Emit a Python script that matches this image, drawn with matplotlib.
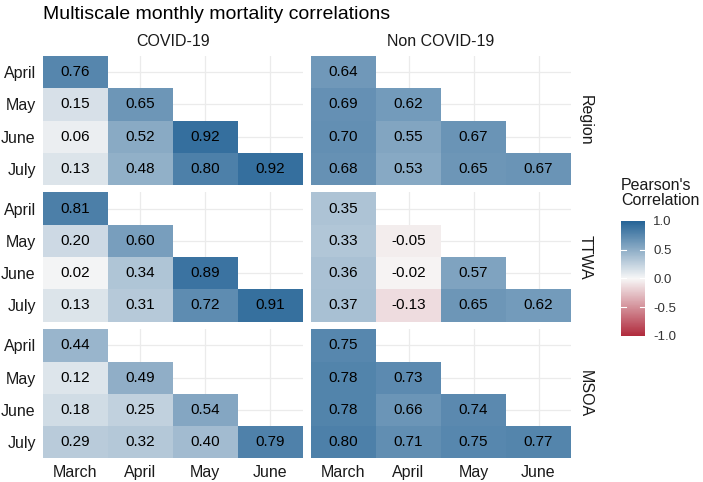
import numpy as np
import matplotlib
matplotlib.use("Agg")
import matplotlib.pyplot as plt
from matplotlib.colors import LinearSegmentedColormap, Normalize
from matplotlib.cm import ScalarMappable

plt.rcParams['font.family'] = ['Liberation Sans', 'DejaVu Sans']

row_months = ['April', 'May', 'June', 'July']
col_months = ['March', 'April', 'May', 'June']
causes = ['COVID-19', 'Non COVID-19']
scales = ['Region', 'TTWA', 'MSOA']

# lower-triangle correlations, one list per row month
covid_region = [[0.76], [0.15, 0.65], [0.06, 0.52, 0.92], [0.13, 0.48, 0.80, 0.92]]
noncovid_region = [[0.64], [0.69, 0.62], [0.70, 0.55, 0.67], [0.68, 0.53, 0.65, 0.67]]
covid_ttwa = [[0.81], [0.20, 0.60], [0.02, 0.34, 0.89], [0.13, 0.31, 0.72, 0.91]]
noncovid_ttwa = [[0.35], [0.33, -0.05], [0.36, -0.02, 0.57], [0.37, -0.13, 0.65, 0.62]]
covid_msoa = [[0.44], [0.12, 0.49], [0.18, 0.25, 0.54], [0.29, 0.32, 0.40, 0.79]]
noncovid_msoa = [[0.75], [0.78, 0.73], [0.78, 0.66, 0.74], [0.80, 0.71, 0.75, 0.77]]

panels = {
    ('Region', 'COVID-19'): covid_region,
    ('Region', 'Non COVID-19'): noncovid_region,
    ('TTWA', 'COVID-19'): covid_ttwa,
    ('TTWA', 'Non COVID-19'): noncovid_ttwa,
    ('MSOA', 'COVID-19'): covid_msoa,
    ('MSOA', 'Non COVID-19'): noncovid_msoa,
}

cmap = LinearSegmentedColormap.from_list(
    'pearson', [(0.0, '#b02a3c'), (0.5, '#f7f7f7'), (1.0, '#246396')])
norm = Normalize(-1, 1)

W, H = 703, 482
fig = plt.figure(figsize=(W / 100, H / 100), dpi=100)

col_left = [42.7, 311.0]
panel_w = 260.0
row_top = [56.0, 192.5, 329.3]
panel_h = 129.0

text_col = '#1a1a1a'

for i, sc in enumerate(scales):
    for j, cause in enumerate(causes):
        ax = fig.add_axes([col_left[j] / W, 1 - (row_top[i] + panel_h) / H,
                           panel_w / W, panel_h / H])
        rows = panels[(sc, cause)]
        grid = np.full((4, 4), np.nan)
        for r, vals in enumerate(rows):
            for c, v in enumerate(vals):
                grid[r, c] = v
        ax.set_axisbelow(True)
        ax.pcolormesh(np.arange(5), np.arange(5), np.ma.masked_invalid(grid),
                      cmap=cmap, norm=norm, zorder=2)
        for r, vals in enumerate(rows):
            for c, v in enumerate(vals):
                ax.text(c + 0.5, r + 0.5, f'{v:.2f}', ha='center', va='center',
                        fontsize=11, color='black', zorder=3)
        ax.set_xlim(0, 4)
        ax.set_ylim(4, 0)
        ax.set_xticks(np.arange(4) + 0.5)
        ax.set_yticks(np.arange(4) + 0.5)
        ax.grid(True, color='#ebebeb', lw=0.9, zorder=0)
        for s in ax.spines.values():
            s.set_visible(False)
        ax.tick_params(length=0, labelsize=11.5, labelcolor=text_col, pad=5)
        if j == 0:
            ax.set_yticklabels(row_months)
        else:
            ax.set_yticklabels([])
        if i == 2:
            ax.set_xticklabels(col_months)
        else:
            ax.set_xticklabels([])

# facet strips
for j, cause in enumerate(causes):
    fig.text((col_left[j] + panel_w / 2) / W, 1 - 41.5 / H, cause,
             ha='center', va='center', fontsize=11.5, color=text_col)
for i, sc in enumerate(scales):
    fig.text(585 / W, 1 - (row_top[i] + panel_h / 2) / H, sc, rotation=270,
             ha='center', va='center', fontsize=11.5, color=text_col)

fig.text(43 / W, 1 - 19 / H, 'Multiscale monthly mortality correlations',
         ha='left', va='baseline', fontsize=14, color='black')

# colourbar legend
cax = fig.add_axes([621 / W, 1 - 336 / H, 24 / W, 115 / H])
cb = fig.colorbar(ScalarMappable(norm=norm, cmap=cmap), cax=cax,
                  ticks=[1.0, 0.5, 0.0, -0.5, -1.0])
cb.outline.set_visible(False)
cb.ax.set_yticklabels(['1.0', '0.5', '0.0', '-0.5', '-1.0'])
cb.ax.tick_params(length=0, labelsize=9.5, labelcolor='#333333', pad=6)
for t in [-0.5, 0.0, 0.5]:
    cb.ax.plot([0, 0.2], [t, t], color='white', lw=0.8, transform=cb.ax.get_yaxis_transform())
    cb.ax.plot([0.8, 1.0], [t, t], color='white', lw=0.8, transform=cb.ax.get_yaxis_transform())
fig.text(621 / W, 1 - 178 / H, "Pearson's\nCorrelation", ha='left', va='top',
         fontsize=11.5, color=text_col, linespacing=1.0)

fig.savefig('out.png', dpi=100)
